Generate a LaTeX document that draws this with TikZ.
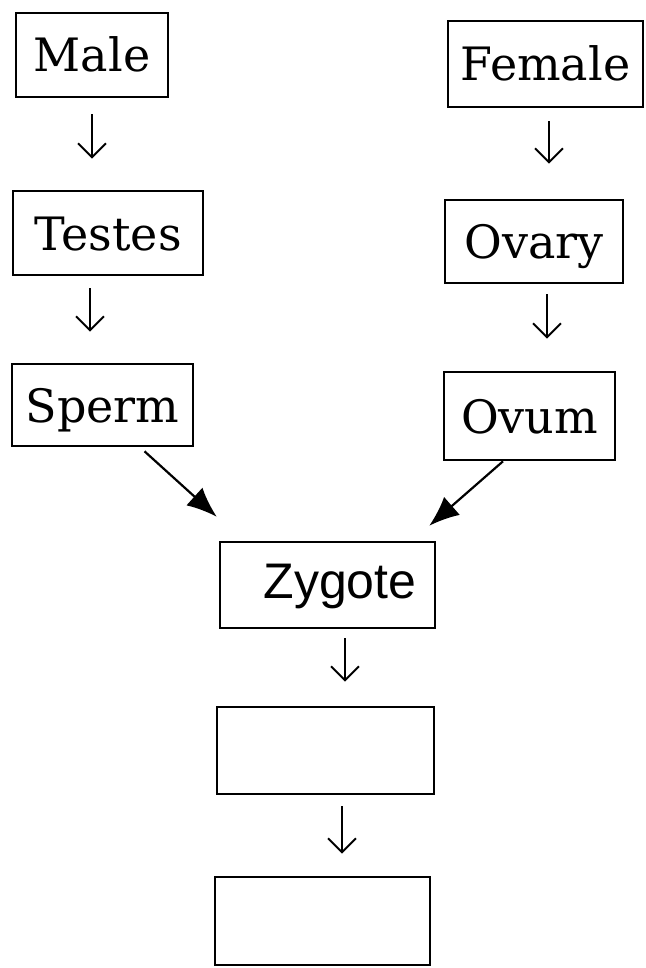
\documentclass[tikz,border=0pt]{standalone}
\usepackage{fontspec}
\setmainfont{DejaVu Serif}
\newfontfamily\zygfont{Liberation Sans}
\usetikzlibrary{arrows.meta}

\tikzset{
  organbox/.style={draw, line width=1.3pt, inner sep=0pt, text height=17pt, text depth=0pt,
    font=\fontsize{23}{26}\selectfont},
  downarrow/.style={line width=1pt, -{Straight Barb[length=7pt,width=14pt]}},
  joinarrow/.style={line width=1.1pt, -{Latex[length=15pt,width=12pt]}}
}

\begin{document}
\begin{tikzpicture}[x=0.5pt, y=-0.5pt]
        \useasboundingbox (0,0) rectangle (646,968);

        % male side
        \node[organbox, minimum width=76pt, minimum height=42pt] (male) at (92,55) {Male};
        \node[organbox, minimum width=95pt, minimum height=42pt] (testes) at (108,233) {Testes};
        \node[organbox, minimum width=90.5pt, minimum height=41pt] (sperm) at (102.5,405) {Sperm};

        % female side
        \node[organbox, minimum width=97.5pt, minimum height=43pt] (female) at (545.5,64) {Female};
        \node[organbox, minimum width=89pt, minimum height=41.5pt] (ovary) at (534,241.5) {Ovary};
        \node[organbox, minimum width=85.5pt, minimum height=44pt] (ovum) at (529.5,416) {Ovum};

        % zygote and the two empty boxes
        \node[organbox, minimum width=107.5pt, minimum height=43pt, text height=18pt, text depth=5pt,
              font=\zygfont\fontsize{25}{28}\selectfont] (zygote) at (327.5,585) {\hspace*{12.5pt}Zygote};
        \node[organbox, minimum width=108.5pt, minimum height=43.5pt] (blankA) at (325.5,750.5) {};
        \node[organbox, minimum width=107.5pt, minimum height=44pt] (blankB) at (322.5,921) {};

        \draw[downarrow, shorten <=8pt, shorten >=15.5pt] (male.south) -- (male.south |- testes.north);
        \draw[downarrow, shorten <=6pt, shorten >=15.5pt] ([xshift=-9pt]testes.south) -- ([xshift=-9pt]testes.south |- sperm.north);
        \draw[downarrow, shorten <=6.5pt, shorten >=17.5pt] ([xshift=1.75pt]female.south) -- ([xshift=1.75pt]female.south |- ovary.north);
        \draw[downarrow, shorten <=5pt, shorten >=16pt] ([xshift=6.5pt]ovary.south) -- ([xshift=6.5pt]ovary.south |- ovum.north);

        \draw[joinarrow] ([xshift=21pt,yshift=-2pt]sperm.south) -- ([xshift=-1pt,yshift=12pt]zygote.north west);
        \draw[joinarrow] ([xshift=-13.25pt]ovum.south) -- ([xshift=-3.5pt,yshift=7.5pt]zygote.north east);

        \draw[downarrow, shorten <=4.5pt, shorten >=12pt] ([xshift=8.75pt]zygote.south) -- ([xshift=8.75pt]zygote.south |- blankA.north);
        \draw[downarrow, shorten <=5.5pt, shorten >=11pt] ([xshift=8.25pt]blankA.south) -- ([xshift=8.25pt]blankA.south |- blankB.north);
    \end{tikzpicture}
\end{document}
